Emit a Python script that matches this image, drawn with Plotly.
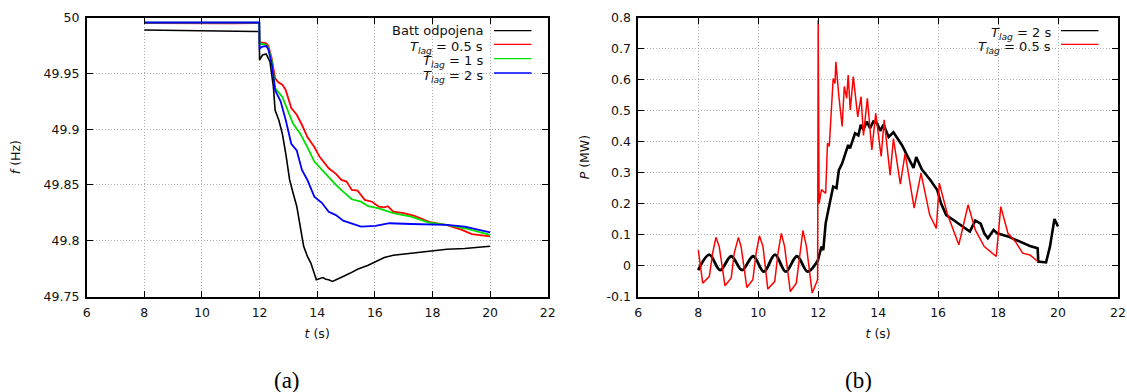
import plotly.graph_objects as go

W, H = 1127, 392

# ---------------- (a) frequency ----------------
t_batt = [8.0, 9.0, 10.0, 11.0, 11.99, 12.0, 12.1, 12.23, 12.36, 12.48, 12.54, 12.67, 12.79, 12.91,
          13.04, 13.16, 13.29, 13.41, 13.53, 13.66, 13.78, 13.97, 14.09, 14.2, 14.3, 14.4, 14.53,
          14.71, 14.9, 15.15, 15.4, 15.77, 16.02, 16.33, 16.64, 17.26, 17.88, 18.5, 19.12, 20.0]
f_batt = [49.9890, 49.9885, 49.9880, 49.9876, 49.9876, 49.962, 49.9665, 49.9674, 49.9606, 49.938,
          49.917, 49.908, 49.896, 49.878, 49.855, 49.843, 49.831, 49.813, 49.795, 49.786, 49.780,
          49.765, 49.766, 49.767, 49.7655, 49.765, 49.7635, 49.766, 49.768, 49.771, 49.7745,
          49.778, 49.781, 49.785, 49.787, 49.789, 49.791, 49.7924, 49.793, 49.795]

t_red = [8.0, 9.0, 10.0, 11.0, 11.99, 12.0, 12.1, 12.23, 12.3, 12.42, 12.54, 12.65, 12.79, 12.91,
         13.1, 13.29, 13.47, 13.66, 13.9, 14.09, 14.4, 14.65, 14.84, 15.02, 15.2, 15.4, 15.65,
         15.9, 16.14, 16.33, 16.45, 16.64, 17.0, 17.38, 17.88, 18.5, 19.0, 19.37, 20.0]
f_red = [49.9952, 49.9950, 49.9952, 49.9950, 49.9952, 49.9776, 49.9776, 49.977, 49.975, 49.9636,
         49.9456, 49.942, 49.940, 49.935, 49.919, 49.913, 49.904, 49.893, 49.884, 49.875, 49.865,
         49.860, 49.8545, 49.853, 49.8456, 49.845, 49.8366, 49.835, 49.8306, 49.830, 49.831,
         49.826, 49.8247, 49.8223, 49.817, 49.814, 49.810, 49.806, 49.804]

t_grn = [8.0, 9.0, 10.0, 11.0, 11.99, 12.0, 12.1, 12.23, 12.3, 12.42, 12.54, 12.79, 12.97, 13.16,
         13.41, 13.66, 13.9, 14.16, 14.4, 14.65, 14.9, 15.2, 15.52, 15.77, 16.14, 16.64, 17.26,
         17.88, 18.5, 19.12, 20.0]
f_grn = [49.9955, 49.9954, 49.9955, 49.9954, 49.9955, 49.9764, 49.9764, 49.9755, 49.973, 49.962,
         49.937, 49.929, 49.917, 49.905, 49.896, 49.884, 49.871, 49.8635, 49.8575, 49.850,
         49.844, 49.8372, 49.835, 49.831, 49.829, 49.8247, 49.8217, 49.8163, 49.8142, 49.8112,
         49.8053]

t_blu = [8.0, 9.0, 10.0, 11.0, 11.99, 12.0, 12.1, 12.23, 12.3, 12.42, 12.54, 12.73, 12.91, 13.1,
         13.29, 13.47, 13.66, 13.9, 14.16, 14.4, 14.65, 14.9, 15.2, 15.52, 16.02, 16.51, 17.26,
         17.88, 18.5, 19.12, 20.0]
f_blu = [49.9957, 49.9956, 49.9957, 49.9956, 49.9957, 49.9725, 49.974, 49.9746, 49.972, 49.959,
         49.935, 49.925, 49.908, 49.887, 49.881, 49.8635, 49.8545, 49.8396, 49.834, 49.826,
         49.823, 49.818, 49.8157, 49.8127, 49.8133, 49.8157, 49.815, 49.8148, 49.8142, 49.8127,
         49.8076]

# ---------------- (b) power ----------------
t_p2 = [8.0, 8.37, 8.73, 9.1, 9.46, 9.83, 10.19, 10.56, 10.92, 11.29, 11.65, 11.95, 12.0, 12.06,
        12.11, 12.17, 12.25, 12.34, 12.45, 12.5, 12.61, 12.69, 12.8, 12.92, 13.0, 13.06, 13.14,
        13.23, 13.34, 13.42, 13.51, 13.62, 13.73, 13.84, 13.96, 14.07, 14.18, 14.35, 14.51,
        14.79, 15.02, 15.18, 15.27, 15.46, 15.74, 15.97, 16.1, 16.27, 16.51, 16.75, 17.06,
        17.24, 17.42, 17.54, 17.66, 17.85, 17.97, 18.33, 18.7, 19.06, 19.32, 19.34, 19.6,
        19.73, 19.88, 20.0]
p_p2 = [-0.015, 0.035, -0.015, 0.03, -0.015, 0.03, -0.02, 0.035, -0.02, 0.03, -0.02, 0.01, 0.02,
        0.04, 0.061, 0.05, 0.137, 0.18, 0.233, 0.255, 0.25, 0.308, 0.33, 0.368, 0.389, 0.378,
        0.405, 0.427, 0.42, 0.454, 0.438, 0.465, 0.443, 0.465, 0.46, 0.435, 0.455, 0.415, 0.43,
        0.389, 0.345, 0.315, 0.35, 0.31, 0.276, 0.244, 0.2, 0.163, 0.147, 0.131, 0.110,
        0.145, 0.135, 0.104, 0.088, 0.115, 0.104, 0.094, 0.077, 0.063, 0.056, 0.013, 0.01,
        0.061, 0.15, 0.126]

t_p05 = [8.0, 8.15, 8.37, 8.48, 8.59, 8.7, 8.89, 9.1, 9.2, 9.34, 9.43, 9.62, 9.82, 9.93, 10.04,
         10.16, 10.32, 10.55, 10.66, 10.77, 10.88, 11.07, 11.27, 11.39, 11.49, 11.61, 11.8,
         11.98, 12.0, 12.03, 12.11, 12.25, 12.31, 12.37, 12.45, 12.5, 12.56, 12.59, 12.69, 12.8,
         12.87, 12.95, 13.0, 13.07, 13.17, 13.32, 13.43, 13.51, 13.64, 13.79, 13.92, 14.1, 14.2,
         14.4, 14.51, 14.74, 14.9, 15.2, 15.43, 15.72, 15.94, 16.04, 16.3, 16.51, 16.69, 17.0,
         17.24, 17.54, 17.85, 17.94, 18.09, 18.33, 18.58, 18.82, 19.06, 19.33]
p_p05 = [0.05, -0.057, -0.035, 0.04, 0.091, 0.061, -0.065, -0.04, 0.04, 0.091, 0.06, -0.071,
         -0.046, 0.04, 0.096, 0.061, -0.076, -0.052, 0.04, 0.104, 0.061, -0.084, -0.057, 0.04,
         0.113, 0.061, -0.089, -0.046, 0.792, 0.2, 0.245, 0.233, 0.395, 0.385, 0.502, 0.604,
         0.588, 0.658, 0.546, 0.449, 0.578, 0.54, 0.615, 0.502, 0.61, 0.48, 0.545, 0.42, 0.54,
         0.373, 0.491, 0.352, 0.47, 0.292, 0.41, 0.263, 0.362, 0.185, 0.298, 0.163, 0.12, 0.266,
         0.169, 0.115, 0.067, 0.196, 0.115, 0.061, 0.034, 0.029, 0.19, 0.104, 0.077, 0.04,
         0.034, 0.013]

x_ticks = [6, 8, 10, 12, 14, 16, 18, 20, 22]
f_ticks = [49.75, 49.8, 49.85, 49.9, 49.95, 50]
f_ticktext = ["49.75", "49.8", "49.85", "49.9", "49.95", "50"]
p_ticks = [-0.1, 0, 0.1, 0.2, 0.3, 0.4, 0.5, 0.6, 0.7, 0.8]
p_ticktext = ["-0.1", "0", "0.1", "0.2", "0.3", "0.4", "0.5", "0.6", "0.7", "0.8"]

legend_a = ["Batt odpojena", "<i>T</i><sub><i>lag</i></sub> = 0.5 s",
            "<i>T</i><sub><i>lag</i></sub> = 1 s", "<i>T</i><sub><i>lag</i></sub> = 2 s"]
legend_b = ["<i>T</i><sub><i>lag</i></sub> = 2 s", "<i>T</i><sub><i>lag</i></sub> = 0.5 s"]

for a, b in [(t_batt, f_batt), (t_red, f_red), (t_grn, f_grn), (t_blu, f_blu),
             (t_p2, p_p2), (t_p05, p_p05)]:
    assert len(a) == len(b), (len(a), len(b))

BLACK, RED, GREEN, BLUE = "#000000", "#ff0000", "#00e000", "#0000ff"
FONT = "DejaVu Sans"

fig = go.Figure()
fig.add_trace(go.Scatter(x=t_batt, y=f_batt, mode="lines", line=dict(color=BLACK, width=1.6),
                         xaxis="x", yaxis="y", showlegend=False))
fig.add_trace(go.Scatter(x=t_red, y=f_red, mode="lines", line=dict(color=RED, width=1.8),
                         xaxis="x", yaxis="y", showlegend=False))
fig.add_trace(go.Scatter(x=t_grn, y=f_grn, mode="lines", line=dict(color=GREEN, width=1.8),
                         xaxis="x", yaxis="y", showlegend=False))
fig.add_trace(go.Scatter(x=t_blu, y=f_blu, mode="lines", line=dict(color=BLUE, width=1.8),
                         xaxis="x", yaxis="y", showlegend=False))
# black power: smooth oscillation before the event (spline), jagged after
k12 = t_p2.index(12.0)
fig.add_trace(go.Scatter(x=t_p2[:k12 + 1], y=p_p2[:k12 + 1], mode="lines",
                         line=dict(color=BLACK, width=2.8, shape="spline", smoothing=1.0),
                         xaxis="x2", yaxis="y2", showlegend=False))
fig.add_trace(go.Scatter(x=t_p2[k12:], y=p_p2[k12:], mode="lines",
                         line=dict(color=BLACK, width=2.6),
                         xaxis="x2", yaxis="y2", showlegend=False))
fig.add_trace(go.Scatter(x=t_p05, y=p_p05, mode="lines", line=dict(color=RED, width=1.5),
                         xaxis="x2", yaxis="y2", showlegend=False))


def px(x):
    return x / W


def py(y):
    return 1 - y / H


ydom = [py(296.5), py(17.7)]
axis_common = dict(showline=True, linecolor="black", linewidth=1.6, mirror="ticks",
                   ticks="inside", ticklen=6, tickwidth=1, tickcolor="black",
                   showgrid=True, gridcolor="#aaaaaa", griddash="1px,2px", gridwidth=1,
                   zeroline=False, automargin=False,
                   tickfont=dict(family=FONT, size=12.5, color="#111"),
                   title_font=dict(family=FONT, size=12.5, color="#111"))

fig.update_layout(
    template="none",
    width=W, height=H, margin=dict(l=0, r=0, t=0, b=0),
    plot_bgcolor="white", paper_bgcolor="white", showlegend=False,
    font=dict(family=FONT, size=12.5, color="#111"),
    xaxis=dict(domain=[px(86.7), px(547.7)], range=[6, 22], tickvals=x_ticks,
               anchor="y", title=dict(text="<i>t</i> (s)", standoff=10),
               ticklabelstandoff=4, **axis_common),
    yaxis=dict(domain=ydom, range=[49.75, 50], tickvals=f_ticks, ticktext=f_ticktext,
               anchor="x", title=dict(text="<i>f</i> (Hz)", standoff=20),
               ticklabelstandoff=3, **axis_common),
    xaxis2=dict(domain=[px(638.3), px(1118)], range=[6, 22], tickvals=x_ticks,
                anchor="y2", title=dict(text="<i>t</i> (s)", standoff=10),
                ticklabelstandoff=4, **axis_common),
    yaxis2=dict(domain=ydom, range=[-0.1, 0.8], tickvals=p_ticks, ticktext=p_ticktext,
                anchor="x2", title=dict(text="<i>P</i> (MW)", standoff=14),
                ticklabelstandoff=3, **axis_common),
)

# manual gnuplot-style legends (text right, sample line to its right)
rows_y = [30.7, 44.3, 58.7, 73.0]


def legend_row(txt, col, yy, x_text, x0, x1):
    shift = 3.0 if "<sub>" in txt else 0.0
    fig.add_annotation(x=px(x_text), y=py(yy + shift), xref="paper", yref="paper", text=txt,
                       showarrow=False, xanchor="right", yanchor="middle",
                       font=dict(family=FONT, size=13, color="#111"))
    fig.add_shape(type="line", xref="paper", yref="paper", x0=px(x0), x1=px(x1),
                  y0=py(yy), y1=py(yy), line=dict(color=col, width=1.3))


for txt, col, yy in zip(legend_a, [BLACK, RED, GREEN, BLUE], rows_y):
    legend_row(txt, col, yy, 485, 494, 531.5)
for txt, col, yy in zip(legend_b, [BLACK, RED], rows_y[:2]):
    legend_row(txt, col, yy, 1052.5, 1061, 1098.5)

# captions
for txt, xx in [("(a)", 287), ("(b)", 858)]:
    fig.add_annotation(x=px(xx), y=py(380), xref="paper", yref="paper", text=txt,
                       showarrow=False, xanchor="center", yanchor="middle",
                       font=dict(family="Liberation Serif", size=23, color="black"))

fig.write_html("out.html", config={"displayModeBar": False},
               post_script="document.body.style.margin='0';"
                           "document.body.style.overflow='hidden';")
